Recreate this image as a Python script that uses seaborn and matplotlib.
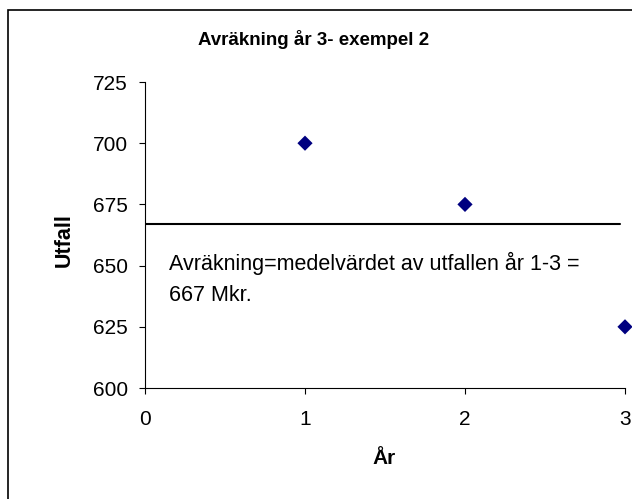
import matplotlib
matplotlib.use("Agg")
import matplotlib.pyplot as plt
import seaborn as sns
import pandas as pd
from matplotlib.patches import Rectangle

years = [1, 2, 3]
outcomes = [700, 675, 625]
settlement = 667
title = "Avräkning år 3- exempel 2"
xlabel = "År"
ylabel = "Utfall"
note_lines = ["Avräkning=medelvärdet av utfallen år 1-3 =", "667 Mkr."]
xticks = [0, 1, 2, 3]
yticks = [600, 625, 650, 675, 700, 725]

sns.set_style("ticks")
plt.rcParams["font.family"] = ["Liberation Sans", "DejaVu Sans"]
plt.rcParams["text.color"] = "black"
plt.rcParams["axes.labelcolor"] = "black"

fig = plt.figure(figsize=(6.32, 4.99), dpi=100)
ax = fig.add_axes([145/632, 1-388/499, 480/632, 306/499])

df = pd.DataFrame({"År": years, "Utfall": outcomes})
sns.scatterplot(data=df, x="År", y="Utfall", marker="D", color="#000080",
                s=60, edgecolor="none", ax=ax, zorder=3, clip_on=False)

ax.plot([0, 2.97], [settlement, settlement], color="black", lw=1.5, zorder=2)

ax.set_xlim(0, 3)
ax.set_ylim(600, 725)
ax.set_xticks(xticks)
ax.set_yticks(yticks)
ax.tick_params(axis="both", labelsize=15, length=4.5, width=0.8, direction="out",
               colors="black")
ax.tick_params(axis="y", pad=8)
ax.tick_params(axis="x", pad=11)
for s in ["top", "right"]:
    ax.spines[s].set_visible(False)
for s in ["left", "bottom"]:
    ax.spines[s].set_linewidth(0.8)
    ax.spines[s].set_color("black")

ax.set_xlabel(xlabel, fontsize=15, fontweight="bold")
ax.set_ylabel(ylabel, fontsize=15.5, fontweight="bold")
ax.xaxis.set_label_coords((384-145)/480, -(458-388)/306)
ax.yaxis.set_label_coords(-(145-64)/480, (388-240)/306)
ax.xaxis.label.set_va("center")
ax.yaxis.label.set_va("center")

ax.text(24/480, (388-270)/306, note_lines[0], transform=ax.transAxes,
        fontsize=15.5, va="baseline", ha="left")
ax.text(24/480, (388-301)/306, note_lines[1], transform=ax.transAxes,
        fontsize=15.5, va="baseline", ha="left")

fig.text(314/632, 1-45/499, title, fontsize=13.5, fontweight="bold",
         ha="center", va="baseline")

fig.patches.append(Rectangle((8/632, -0.05), 1.0, 1-10/499+0.05,
                             transform=fig.transFigure, fill=False,
                             edgecolor="black", lw=1.2, figure=fig))

fig.savefig("out.png", dpi=100)
